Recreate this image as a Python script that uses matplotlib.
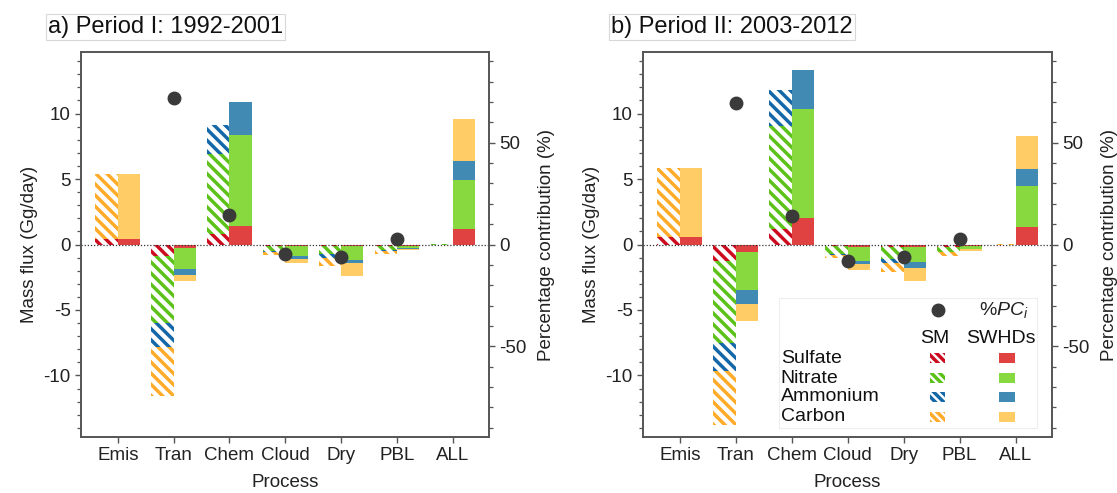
import numpy as np
import matplotlib.pyplot as plt
from matplotlib.patches import Rectangle
from matplotlib.ticker import MultipleLocator

plt.rcParams['font.family'] = ['Liberation Sans', 'DejaVu Sans']
plt.rcParams['hatch.linewidth'] = 2.5
plt.rcParams['axes.unicode_minus'] = False
plt.rcParams['mathtext.fontset'] = 'custom'
plt.rcParams['mathtext.it'] = 'Liberation Sans:italic'
plt.rcParams['mathtext.rm'] = 'Liberation Sans'

# ── data (Gg/day), rows: sulfate, nitrate, ammonium, carbon ───
processes = ["Emis", "Tran", "Chem", "Cloud", "Dry", "PBL", "ALL"]
species = ["Sulfate", "Nitrate", "Ammonium", "Carbon"]

sm_p1 = [[0.40, -0.90, 0.84, -0.10, -0.15, -0.15, 0.00],
         [0.00, -5.10, 6.10, -0.40, -0.60, -0.30, 0.05],
         [0.00, -1.80, 2.20, -0.10, -0.25, -0.05, 0.00],
         [5.00, -3.80, 0.00, -0.20, -0.65, -0.20, 0.00]]
swhd_p1 = [[0.40, -0.25, 1.40, -0.15, -0.15, -0.15, 1.20],
           [0.00, -1.60, 7.00, -0.74, -1.00, -0.12, 3.75],
           [0.00, -0.45, 2.45, -0.20, -0.25, -0.05, 1.40],
           [5.00, -0.45, 0.00, -0.36, -0.97, -0.12, 3.20]]
pc_p1 = [np.nan, 72.0, 14.7, -4.9, -5.9, 2.5, np.nan]

sm_p2 = [[0.60, -1.27, 1.19, -0.10, -0.20, -0.20, 0.00],
         [0.00, -6.23, 7.87, -0.60, -0.90, -0.35, 0.00],
         [0.00, -2.17, 2.72, -0.10, -0.35, -0.05, 0.00],
         [5.24, -4.13, 0.00, -0.20, -0.65, -0.25, 0.05]]
swhd_p2 = [[0.60, -0.56, 2.03, -0.20, -0.20, -0.15, 1.37],
           [0.00, -2.92, 8.33, -1.07, -1.15, -0.23, 3.13],
           [0.00, -1.04, 2.94, -0.25, -0.43, 0.00, 1.27],
           [5.24, -1.34, 0.00, -0.40, -0.97, -0.12, 2.49]]
pc_p2 = [np.nan, 69.6, 14.2, -8.3, -5.9, 2.5, np.nan]

solid_colors = ["#e04242", "#88d840", "#408ab4", "#ffcc66"]
hatch_colors = ["#cc0b1e", "#5cc21a", "#1468a8", "#ffab2a"]
spine_c = "#555555"
dot_c = "#3a3a3a"
BS = chr(92)   # backslash, for the hatch pattern


def draw_panel(ax, sm, swhd, pc):
    x = np.arange(len(processes))
    for vals, off, hatched in ((sm, -0.2, True), (swhd, 0.2, False)):
        pos = np.zeros(len(x))
        neg = np.zeros(len(x))
        for k, row in enumerate(vals):
            row = np.array(row)
            bottom = np.where(row >= 0, pos, neg)
            if hatched:
                ax.bar(x + off, row, 0.4, bottom=bottom, color="white",
                       edgecolor=hatch_colors[k], hatch=BS * 3, linewidth=0)
            else:
                ax.bar(x + off, row, 0.4, bottom=bottom,
                       color=solid_colors[k], linewidth=0)
            pos += np.clip(row, 0, None)
            neg += np.clip(row, None, 0)
    ax.axhline(0, color="#333333", ls=(0, (1, 1.5)), lw=0.9)
    ax.set_xlim(-0.66, 6.65)
    ax.set_ylim(-14.7, 14.7)
    ax.set_xticks(x)
    ax.set_xticklabels(processes)
    ax.yaxis.set_minor_locator(MultipleLocator(1))
    ax.set_yticks([-10, -5, 0, 5, 10])
    ax.set_xlabel("Process", fontsize=13.5, color="#222222", labelpad=7)
    ax.set_ylabel("Mass flux (Gg/day)", fontsize=13.5, color="#222222")

    ax2 = ax.twinx()
    ax2.plot(x, pc, "o", color=dot_c, ms=9)
    ax2.set_ylim(-94.5, 94.5)
    ax2.set_yticks([-50, 0, 50])
    ax2.yaxis.set_minor_locator(MultipleLocator(10))
    ax2.set_ylabel("Percentage contribution (%)", fontsize=13.5,
                   color="#222222", labelpad=8)

    for a in (ax, ax2):
        for s in a.spines.values():
            s.set_color(spine_c)
            s.set_linewidth(1.2)
        a.tick_params(which="both", direction="out", color=spine_c,
                      labelsize=13.5, labelcolor="#222222")
        a.tick_params(which="major", length=4, width=1)
        a.tick_params(which="minor", length=3, width=0.9)
    ax.tick_params(axis="x", which="minor", bottom=False)
    return ax2


fig = plt.figure(figsize=(11.17, 4.93), dpi=100)
ax_a = fig.add_axes([0.0725, 0.1136, 0.3653, 0.7809])
ax_b = fig.add_axes([0.5756, 0.1136, 0.3662, 0.7809])

draw_panel(ax_a, sm_p1, swhd_p1, pc_p1)
ax_b2 = draw_panel(ax_b, sm_p2, swhd_p2, pc_p2)

box = dict(facecolor="white", edgecolor="#d8d8d8", lw=0.8, pad=1.5)
fig.text(48 / 1117, 1 - 27 / 493, "a) Period I: 1992-2001", fontsize=17,
         ha="left", va="center", color="#111111", bbox=box)
fig.text(611 / 1117, 1 - 27 / 493, "b) Period II: 2003-2012", fontsize=17,
         ha="left", va="center", color="#111111", bbox=box)

# ── legend built by hand in panel b ──────────────────────────
tr = ax_b2.transAxes
ax_b2.add_patch(Rectangle((0.3325, 0.0234), 0.6305, 0.338, transform=tr,
                          facecolor="white", edgecolor="#eeeeee", lw=0.8,
                          zorder=5))
ax_b2.plot([0.721], [0.330], "o", color=dot_c, ms=9, transform=tr,
           zorder=6, clip_on=False)
ax_b2.text(0.883, 0.330, r"$\%PC_i$", transform=tr, fontsize=14,
           ha="center", va="center", color="#222222", zorder=6)
ax_b2.text(0.714, 0.257, "SM", transform=tr, fontsize=14,
           ha="center", va="center", color="#111111", zorder=6)
ax_b2.text(0.875, 0.257, "SWHDs", transform=tr, fontsize=14,
           ha="center", va="center", color="#111111", zorder=6)
row_y = [0.205, 0.153, 0.104, 0.052]
for k, name in enumerate(species):
    ax_b2.text(0.337, row_y[k], name, transform=tr, fontsize=14,
               ha="left", va="center", color="#111111", zorder=6)
    ax_b2.add_patch(Rectangle((0.721 - 0.0185, row_y[k] - 0.013), 0.037, 0.026,
                              transform=tr, facecolor="white",
                              edgecolor=hatch_colors[k], hatch=BS * 4,
                              lw=0, zorder=6))
    ax_b2.add_patch(Rectangle((0.890 - 0.0185, row_y[k] - 0.013), 0.037, 0.026,
                              transform=tr, facecolor=solid_colors[k],
                              lw=0, zorder=6))

fig.savefig("out.png", dpi=100)
